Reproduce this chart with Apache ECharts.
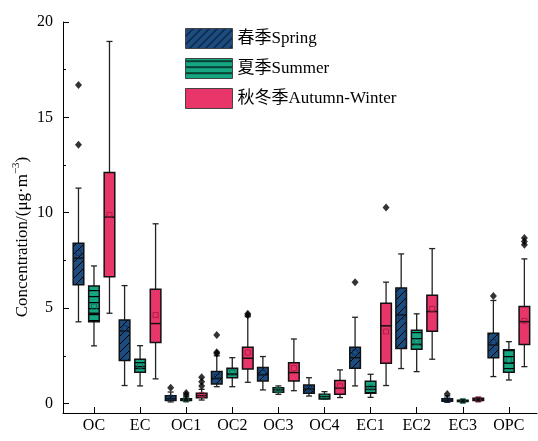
<!DOCTYPE html>
<html>
<head>
<meta charset="utf-8">
<script src="https://cdn.jsdelivr.net/npm/echarts@6/dist/echarts.min.js"></script>
<style>
  html, body { margin: 0; padding: 0; background: #fff; }
  #main { width: 538px; height: 441px; }
</style>
</head>
<body>
<div id="main"></div>
<script>
var categories = ['OC', 'EC', 'OC1', 'OC2', 'OC3', 'OC4', 'EC1', 'EC2', 'EC3', 'OPC'];
var seasonNames = ['春季Spring', '夏季Summer', '秋冬季Autumn-Winter'];
var yMajorTicks = [0, 5, 10, 15, 20];
var yMinorTicks = [2.5, 7.5, 12.5, 17.5];

// each row: [lower whisker, Q1, median, Q3, upper whisker, mean]
var springStats = [
    [4.28, 6.22, 7.62, 8.40, 11.29, 7.90],
    [0.94, 2.25, 3.80, 4.38, 6.18, 3.94],
    [0.08, 0.15, 0.25, 0.40, 0.60, 0.30],
    [0.88, 1.02, 1.32, 1.67, 2.50, 1.40],
    [0.71, 1.18, 1.50, 1.88, 2.46, 1.60],
    [0.39, 0.53, 0.76, 0.97, 1.35, 0.78],
    [0.92, 1.85, 2.40, 2.95, 4.52, 2.67],
    [1.83, 2.88, 4.64, 6.06, 7.84, 4.55],
    [0.06, 0.12, 0.17, 0.25, 0.40, 0.20],
    [1.41, 2.40, 3.07, 3.68, 5.40, 3.21]
];
var summerStats = [
    [3.02, 4.29, 4.73, 6.16, 7.21, 5.08],
    [0.92, 1.64, 1.93, 2.32, 3.03, 1.98],
    [0.10, 0.15, 0.20, 0.25, 0.35, 0.21],
    [0.88, 1.35, 1.55, 1.85, 2.40, 1.62],
    [0.48, 0.59, 0.71, 0.83, 0.92, 0.70],
    [0.22, 0.24, 0.36, 0.48, 0.62, 0.36],
    [0.32, 0.53, 0.74, 1.16, 1.53, 0.83],
    [1.67, 2.84, 3.10, 3.84, 4.70, 3.24],
    [0.06, 0.10, 0.13, 0.17, 0.20, 0.13],
    [1.23, 1.64, 2.11, 2.81, 3.24, 2.28]
];
var autumnStats = [
    [4.73, 6.65, 9.77, 12.11, 18.98, 9.89],
    [1.29, 3.19, 4.19, 5.99, 9.42, 4.64],
    [0.18, 0.30, 0.41, 0.54, 0.74, 0.45],
    [1.11, 1.81, 2.37, 2.95, 4.55, 2.67],
    [0.67, 1.18, 1.62, 2.14, 3.38, 1.85],
    [0.31, 0.48, 0.80, 1.20, 1.76, 0.90],
    [0.94, 2.11, 4.07, 5.26, 6.36, 3.77],
    [2.32, 3.79, 4.82, 5.68, 8.12, 4.96],
    [0.10, 0.15, 0.20, 0.27, 0.32, 0.21],
    [1.93, 3.09, 4.29, 5.08, 7.58, 4.33]
];

// outliers: [category index, value]
var springOutliers = [[0, 16.7], [0, 13.56], [2, 0.82], [3, 3.59], [3, 2.69], [3, 2.62], [6, 6.36], [8, 0.50], [9, 5.64]];
var summerOutliers = [[2, 0.45], [2, 0.55]];
var autumnOutliers = [[2, 1.37], [2, 1.14], [2, 0.92], [3, 4.70], [3, 4.62], [6, 10.27], [9, 8.67], [9, 8.49], [9, 8.32]];

var serif = '"Liberation Serif", "Times New Roman", "Noto Sans CJK SC", serif';
var colors = ['#1d4d80', '#17a682', '#e8356a'];
var meanColors = ['#0b2b50', '#0c6a52', '#a3183f'];
var pxOffsets = [-15.5, 0, 15.5];

function makePattern(bg, kind) {
    var s = kind === 'diag' ? 8 : 6;
    var c = document.createElement('canvas');
    c.width = s;
    c.height = s;
    var ctx = c.getContext('2d');
    ctx.fillStyle = bg;
    ctx.fillRect(0, 0, s, s);
    if (kind === 'diag') {
        ctx.strokeStyle = '#000';
        ctx.lineWidth = 1;
        ctx.beginPath();
        ctx.moveTo(0, s); ctx.lineTo(s, 0);
        ctx.moveTo(-2, 2); ctx.lineTo(2, -2);
        ctx.moveTo(s - 2, s + 2); ctx.lineTo(s + 2, s - 2);
        ctx.stroke();
    } else if (kind === 'horiz') {
        ctx.fillStyle = '#000';
        ctx.fillRect(0, 2, s, 1.2);
    }
    return { image: c, repeat: 'repeat' };
}

var fills = [
    makePattern(colors[0], 'diag'),
    makePattern(colors[1], 'horiz'),
    makePattern(colors[2], 'none')
];

function toRows(stats) {
    return stats.map(function (s, i) { return [i].concat(s); });
}

function boxRenderer(k) {
    return function (params, api) {
        var i = api.value(0);
        var cx = api.coord([i, 0])[0] + pxOffsets[k];
        var yLo = api.coord([i, api.value(1)])[1];
        var yQ1 = api.coord([i, api.value(2)])[1];
        var yMed = api.coord([i, api.value(3)])[1];
        var yQ3 = api.coord([i, api.value(4)])[1];
        var yHi = api.coord([i, api.value(5)])[1];
        var yMean = api.coord([i, api.value(6)])[1];
        var hw = 5.3, cap = 3;
        var wStyle = { stroke: '#222', lineWidth: 1.3 };
        return {
            type: 'group',
            children: [
                { type: 'line', shape: { x1: cx, y1: yQ3, x2: cx, y2: yHi }, style: wStyle },
                { type: 'line', shape: { x1: cx, y1: yQ1, x2: cx, y2: yLo }, style: wStyle },
                { type: 'line', shape: { x1: cx - cap, y1: yHi, x2: cx + cap, y2: yHi }, style: wStyle },
                { type: 'line', shape: { x1: cx - cap, y1: yLo, x2: cx + cap, y2: yLo }, style: wStyle },
                {
                    type: 'rect',
                    shape: { x: cx - hw, y: yQ3, width: hw * 2, height: Math.max(yQ1 - yQ3, 1) },
                    style: { fill: fills[k], stroke: '#111', lineWidth: 1.5 }
                },
                { type: 'line', shape: { x1: cx - hw, y1: yMed, x2: cx + hw, y2: yMed }, style: { stroke: '#111', lineWidth: 1.5 } },
                {
                    type: 'rect',
                    shape: { x: cx - 2.5, y: yMean - 2.5, width: 5, height: 5 },
                    style: { fill: 'none', stroke: meanColors[k], lineWidth: 0.8 }
                }
            ]
        };
    };
}

var allStats = [springStats, summerStats, autumnStats];
var allOutliers = [springOutliers, summerOutliers, autumnOutliers];

var series = [];
for (var k = 0; k < 3; k++) {
    series.push({
        name: seasonNames[k],
        type: 'custom',
        renderItem: boxRenderer(k),
        encode: { x: 0, y: [1, 2, 3, 4, 5] },
        itemStyle: { color: colors[k] },
        data: toRows(allStats[k]),
        z: 2
    });
}
for (var k2 = 0; k2 < 3; k2++) {
    series.push({
        name: 'outliers' + k2,
        type: 'scatter',
        symbol: 'diamond',
        symbolSize: [7, 8],
        symbolOffset: [pxOffsets[k2], 0],
        itemStyle: { color: '#000' },
        data: allOutliers[k2],
        z: 3
    });
}

var chart = echarts.init(document.getElementById('main'));
chart.setOption({
    animation: false,
    grid: { left: 63, right: 1, top: 22, bottom: 28 },
    legend: {
        orient: 'vertical',
        left: 180,
        top: 23,
        icon: 'rect',
        itemWidth: 47,
        itemHeight: 20,
        itemGap: 9,
        selectedMode: false,
        textStyle: { fontFamily: serif, fontSize: 17, color: '#000' },
        data: seasonNames.map(function (n, k) {
            return { name: n, itemStyle: { color: fills[k], borderColor: '#444', borderWidth: 1 } };
        })
    },
    xAxis: {
        type: 'value',
        min: -0.672,
        max: 9.61,
        splitLine: { show: false },
        axisLine: { onZero: false, lineStyle: { color: '#000', width: 1 } },
        axisTick: { inside: true, length: 6, customValues: categories.map(function (c, i) { return i; }), lineStyle: { color: '#000' } },
        axisLabel: {
            customValues: categories.map(function (c, i) { return i; }),
            formatter: function (v) { return categories[Math.round(v)]; },
            fontFamily: serif, fontSize: 16, color: '#000', margin: 5
        }
    },
    yAxis: [{
        type: 'value',
        position: 'left',
        min: -0.5,
        max: 20,
        splitLine: { show: false },
        axisLine: { show: true, onZero: false, lineStyle: { color: '#000', width: 1 } },
        axisTick: { inside: true, length: 6, customValues: yMajorTicks, lineStyle: { color: '#000' } },
        axisLabel: { customValues: yMajorTicks, fontFamily: serif, fontSize: 16, color: '#000', margin: 10 }
    }, {
        type: 'value',
        position: 'left',
        min: -0.5,
        max: 20,
        splitLine: { show: false },
        axisLine: { show: false, onZero: false },
        axisTick: { inside: true, length: 3, customValues: yMinorTicks, lineStyle: { color: '#000' } },
        axisLabel: { show: false }
    }],
    graphic: [{
        type: 'text',
        x: 21,
        y: 237,
        rotation: Math.PI / 2,
        style: {
            text: '{a|Concentration/(μg·m}{s|−3}{a|)}',
            align: 'center',
            verticalAlign: 'middle',
            rich: {
                a: { fontFamily: serif, fontSize: 17, lineHeight: 20, fill: '#000', verticalAlign: 'bottom' },
                s: { fontFamily: serif, fontSize: 11, lineHeight: 12, fill: '#000', verticalAlign: 'top' }
            }
        }
    }],
    series: series
});
</script>
</body>
</html>
